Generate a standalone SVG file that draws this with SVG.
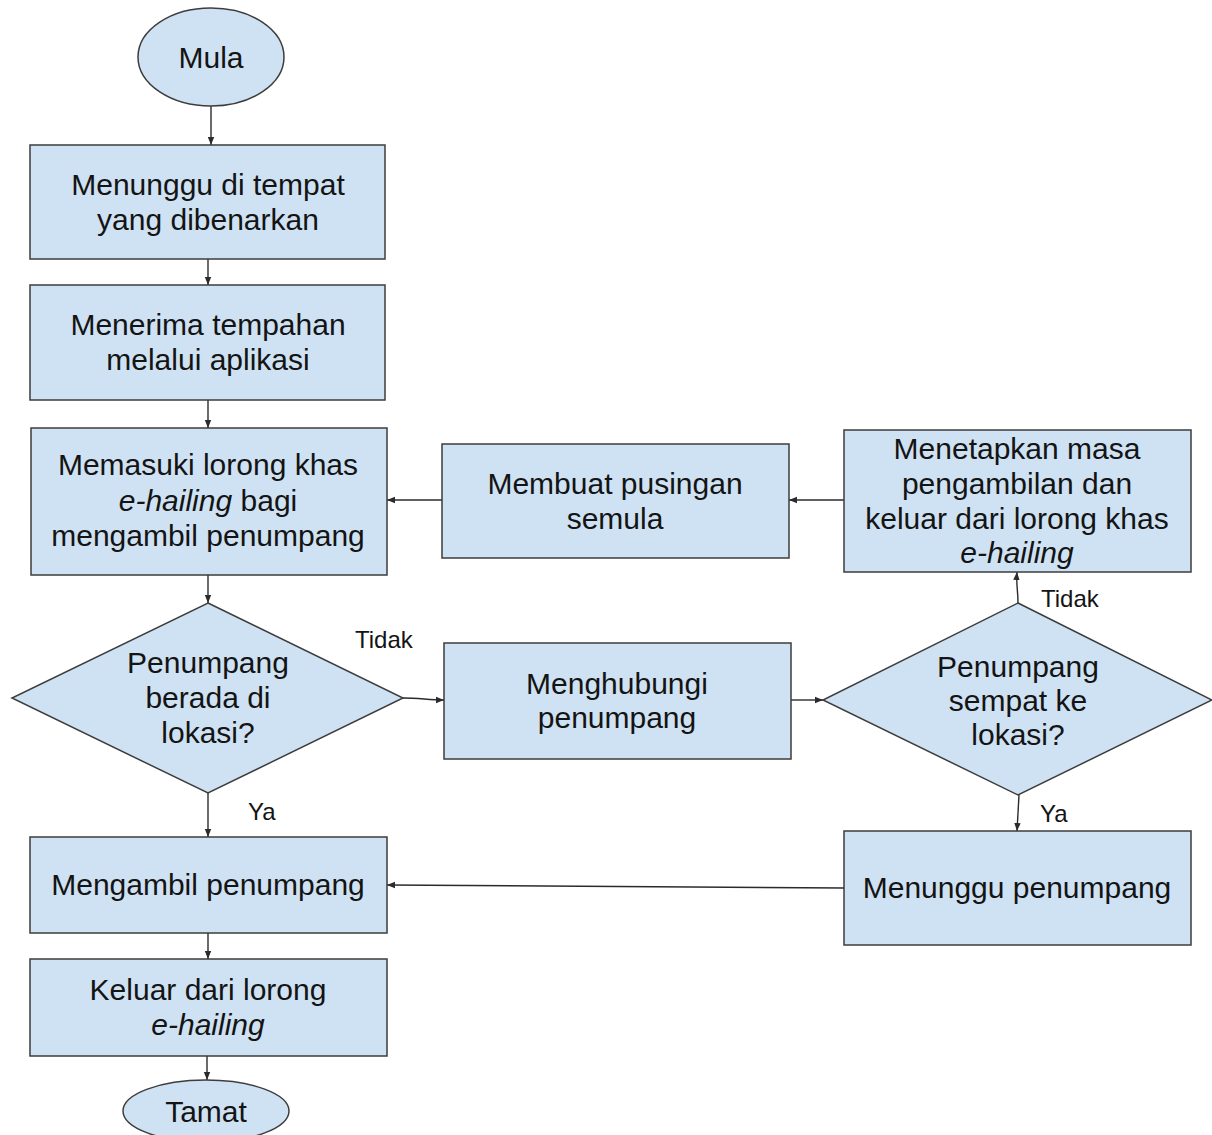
<svg xmlns="http://www.w3.org/2000/svg" width="1212" height="1135" viewBox="0 0 1212 1135">
<style>
.n{fill:#cfe2f3;stroke:#3d3d3d;stroke-width:1.5}
.t{font-family:"Liberation Sans",Arial,sans-serif;font-size:30px;fill:#141414;text-anchor:middle}
.l{font-family:"Liberation Sans",Arial,sans-serif;font-size:24px;fill:#141414}
.c{fill:none;stroke:#2b2b2b;stroke-width:1.4;marker-end:url(#a)}
.i{font-style:italic}
</style>
<defs>
<marker id="a" markerUnits="userSpaceOnUse" markerWidth="10" markerHeight="8" refX="8" refY="4" orient="auto">
<path d="M0,0.8 L8,4 L0,7.2 Z" fill="#2b2b2b"/>
</marker>
</defs>
<rect width="1212" height="1135" fill="#ffffff"/>
<g id="connectors">
<path class="c" d="M211,106 L211,145"/>
<path class="c" d="M208,259 L208,285"/>
<path class="c" d="M208,400 L208,428"/>
<path class="c" d="M208,575 L208,603"/>
<path class="c" d="M208,793 L208,837"/>
<path class="c" d="M208,933 L208,959"/>
<path class="c" d="M207,1056 L207,1080"/>
<path class="c" d="M403,698 C420,698 428,700 444,700"/>
<path class="c" d="M791,700 L823,700"/>
<path class="c" d="M1018,603 C1018,590 1016,585 1017,572"/>
<path class="c" d="M844,500 L789,500"/>
<path class="c" d="M442,500 L387,500"/>
<path class="c" d="M1019,795 L1017,831"/>
<path class="c" d="M844,888 L387,885"/>
</g>
<g id="mula">
<ellipse class="n" cx="211" cy="57" rx="73" ry="49"/>
<text class="t" x="211" y="68">Mula</text>
</g>
<g id="menunggu-tempat">
<rect class="n" x="30" y="145" width="355" height="114"/>
<text class="t" x="208" y="195">Menunggu di tempat</text>
<text class="t" x="208" y="230">yang dibenarkan</text>
</g>
<g id="menerima">
<rect class="n" x="30" y="285" width="355" height="115"/>
<text class="t" x="208" y="335">Menerima tempahan</text>
<text class="t" x="208" y="370">melalui aplikasi</text>
</g>
<g id="memasuki">
<rect class="n" x="31" y="428" width="356" height="147"/>
<text class="t" x="208" y="475">Memasuki lorong khas</text>
<text class="t" x="208" y="510.5"><tspan class="i">e-hailing</tspan> bagi</text>
<text class="t" x="208" y="546">mengambil penumpang</text>
</g>
<g id="berada">
<polygon class="n" points="208,603 403,698 208,793 12,698"/>
<text class="t" x="208" y="673">Penumpang</text>
<text class="t" x="208" y="708">berada di</text>
<text class="t" x="208" y="743">lokasi?</text>
</g>
<g id="menghubungi">
<rect class="n" x="444" y="643" width="347" height="116"/>
<text class="t" x="617" y="694">Menghubungi</text>
<text class="t" x="617" y="728">penumpang</text>
</g>
<g id="sempat">
<polygon class="n" points="1018,603 1212,700 1018,795 823,700"/>
<text class="t" x="1018" y="677">Penumpang</text>
<text class="t" x="1018" y="711">sempat ke</text>
<text class="t" x="1018" y="745">lokasi?</text>
</g>
<g id="menetapkan">
<rect class="n" x="844" y="430" width="347" height="142"/>
<text class="t" x="1017" y="459">Menetapkan masa</text>
<text class="t" x="1017" y="494">pengambilan dan</text>
<text class="t" x="1017" y="529">keluar dari lorong khas</text>
<text class="t i" x="1017" y="563">e-hailing</text>
</g>
<g id="membuat">
<rect class="n" x="442" y="444" width="347" height="114"/>
<text class="t" x="615" y="494">Membuat pusingan</text>
<text class="t" x="615" y="529">semula</text>
</g>
<g id="menunggu-penumpang">
<rect class="n" x="844" y="831" width="347" height="114"/>
<text class="t" x="1017" y="898">Menunggu penumpang</text>
</g>
<g id="mengambil">
<rect class="n" x="30" y="837" width="357" height="96"/>
<text class="t" x="208" y="895">Mengambil penumpang</text>
</g>
<g id="keluar">
<rect class="n" x="30" y="959" width="357" height="97"/>
<text class="t" x="208" y="1000">Keluar dari lorong</text>
<text class="t i" x="208" y="1035">e-hailing</text>
</g>
<g id="tamat">
<ellipse class="n" cx="206" cy="1111" rx="83" ry="31"/>
<text class="t" x="206" y="1122">Tamat</text>
</g>
<g id="labels">
<text class="l" x="355" y="648">Tidak</text>
<text class="l" x="248" y="820">Ya</text>
<text class="l" x="1041" y="607">Tidak</text>
<text class="l" x="1040" y="822">Ya</text>
</g>
</svg>
